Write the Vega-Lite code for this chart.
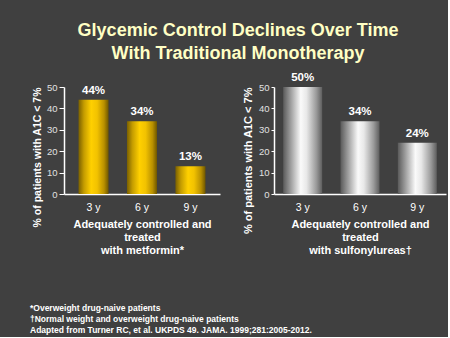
{
  "$schema": "https://vega.github.io/schema/vega-lite/v6.json",
  "background": "#404040",
  "padding": {"left": 30, "top": 22, "right": 2, "bottom": 2},
  "title": {
    "text": ["Glycemic Control Declines Over Time", "With Traditional Monotherapy"],
    "font": "Liberation Sans",
    "fontSize": 18,
    "fontWeight": "bold",
    "color": "#FFFFC4",
    "lineHeight": 23,
    "anchor": "middle",
    "offset": 9
  },
  "config": {
    "view": {"stroke": null},
    "font": "Liberation Sans",
    "axis": {
      "domainColor": "#ffffff",
      "domainWidth": 1.5,
      "tickColor": "#ffffff",
      "labelColor": "#ffffff",
      "titleColor": "#ffffff",
      "labelFont": "Liberation Sans",
      "titleFont": "Liberation Sans",
      "grid": false
    }
  },
  "vconcat": [
    {
      "hconcat": [
        {
          "width": 156,
          "height": 107,
          "data": {"values": [
            {"year": "3 y", "pct": 44, "label": "44%"},
            {"year": "6 y", "pct": 34, "label": "34%"},
            {"year": "9 y", "pct": 13, "label": "13%"}
          ]},
          "encoding": {
            "x": {
              "field": "year", "type": "nominal",
              "scale": {"paddingInner": 0.38, "paddingOuter": 0.3},
              "axis": {
                "labelAngle": 0, "ticks": false, "labelFontSize": 10.5, "labelPadding": 8,
                "title": ["Adequately controlled and", "treated", "with metformin*"],
                "titleFontSize": 11, "titleFontWeight": "bold", "titleLineHeight": 13, "titlePadding": 6
              }
            },
            "y": {
              "field": "pct", "type": "quantitative",
              "scale": {"domain": [0, 50]},
              "axis": {
                "values": [0, 10, 20, 30, 40, 50], "tickSize": 5, "labelFontSize": 9.5, "labelColor": "#e0e0e0",
                "labelPadding": 2,
                "title": "% of patients with  A1C < 7%", "titleFontSize": 10.5, "titleFontWeight": "bold", "titlePadding": 4,
                "titleAnchor": "end"
              }
            }
          },
          "layer": [
            {
              "mark": {
                "type": "bar",
                "color": {
                  "gradient": "linear", "x1": 0, "x2": 1, "y1": 0, "y2": 0,
                  "stops": [
                    {"offset": 0, "color": "#7a6000"},
                    {"offset": 0.18, "color": "#c49c00"},
                    {"offset": 0.42, "color": "#ffd000"},
                    {"offset": 0.62, "color": "#f2c200"},
                    {"offset": 0.85, "color": "#b89000"},
                    {"offset": 1, "color": "#6e5600"}
                  ]
                }
              }
            },
            {
              "mark": {"type": "text", "dy": -9, "fontSize": 11.5, "fontWeight": "bold", "color": "#ffffff"},
              "encoding": {"text": {"field": "label"}}
            }
          ]
        },
        {
          "width": 172,
          "height": 107,
          "data": {"values": [
            {"year": "3 y", "pct": 50, "label": "50%"},
            {"year": "6 y", "pct": 34, "label": "34%"},
            {"year": "9 y", "pct": 24, "label": "24%"}
          ]},
          "encoding": {
            "x": {
              "field": "year", "type": "nominal",
              "scale": {"paddingInner": 0.32, "paddingOuter": 0.16},
              "axis": {
                "labelAngle": 0, "ticks": false, "labelFontSize": 10.5, "labelPadding": 8,
                "title": ["Adequately controlled and", "treated", "with sulfonylureas†"],
                "titleFontSize": 11, "titleFontWeight": "bold", "titleLineHeight": 13, "titlePadding": 6
              }
            },
            "y": {
              "field": "pct", "type": "quantitative",
              "scale": {"domain": [0, 50]},
              "axis": {
                "values": [0, 10, 20, 30, 40, 50], "tickSize": 3, "labelFontSize": 9.5, "labelColor": "#e0e0e0",
                "labelPadding": 2,
                "title": "% of patients with A1C < 7%", "titleFontSize": 11, "titleFontWeight": "bold", "titlePadding": 5,
                "titleAnchor": "end"
              }
            }
          },
          "layer": [
            {
              "mark": {
                "type": "bar",
                "color": {
                  "gradient": "linear", "x1": 0, "x2": 1, "y1": 0, "y2": 0,
                  "stops": [
                    {"offset": 0, "color": "#5a5a5a"},
                    {"offset": 0.2, "color": "#a0a0a0"},
                    {"offset": 0.45, "color": "#fafafa"},
                    {"offset": 0.6, "color": "#e8e8e8"},
                    {"offset": 0.85, "color": "#9a9a9a"},
                    {"offset": 1, "color": "#5e5e5e"}
                  ]
                }
              }
            },
            {
              "mark": {"type": "text", "dy": -9, "fontSize": 11.5, "fontWeight": "bold", "color": "#ffffff"},
              "encoding": {"text": {"field": "label"}}
            }
          ]
        }
      ],
      "spacing": 22
    },
    {
      "width": 300,
      "height": 33,
      "data": {"values": [
        {"line": 1, "text": "*Overweight drug-naive patients"},
        {"line": 2, "text": "†Normal weight and overweight drug-naive patients"},
        {"line": 3, "text": "Adapted from Turner RC, et al.  UKPDS 49. JAMA. 1999;281:2005-2012."}
      ]},
      "mark": {"type": "text", "align": "left", "fontSize": 8.5, "fontWeight": "bold", "color": "#ffffff"},
      "encoding": {
        "y": {"field": "line", "type": "ordinal", "axis": null},
        "x": {"value": -34},
        "text": {"field": "text"}
      }
    }
  ],
  "spacing": 46
}
